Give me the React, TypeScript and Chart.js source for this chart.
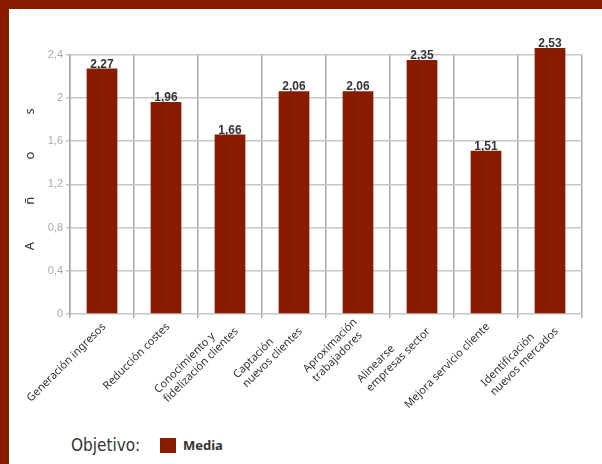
import React, { useEffect, useRef } from 'react';
import { Chart, registerables } from 'chart.js';

Chart.register(...registerables);

const categories: (string | string[])[] = [
  'Generación ingresos',
  'Reducción costes',
  ['Conocimiento y', 'fidelización clientes'],
  ['Captación', 'nuevos clientes'],
  ['Aproximación', 'trabajadores'],
  ['Alinearse', 'empresas sector'],
  'Mejora servicio cliente',
  ['Identificación', 'nuevos mercados'],
];
const mediaValues = [2.27, 1.96, 1.66, 2.06, 2.06, 2.35, 1.51, 2.53];
const yTickLabels = ['0', '0,4', '0,8', '1,2', '1,6', '2', '2,4'];
const seriesName = 'Media';
const legendTitle = 'Objetivo:';
const axisTitle = '   A           ñ           o           s';

const RED = '#881c00';
const TOP_OVERFLOW = 6.5;
const LABEL_FONT = '11px "Noto Sans", sans-serif';
const LABEL_LINE = 13;

const valueLabelPlugin = {
  id: 'valueLabels',
  afterDatasetsDraw(chart: any) {
    const ctx = chart.ctx;
    const meta = chart.getDatasetMeta(0);
    const top = chart.chartArea.top - TOP_OVERFLOW;
    ctx.save();
    ctx.font = 'bold 12px "Liberation Sans", Arial, sans-serif';
    ctx.fillStyle = '#333333';
    ctx.textAlign = 'center';
    ctx.textBaseline = 'alphabetic';
    meta.data.forEach((bar: any, i: number) => {
      const y = Math.max(bar.y, top);
      const txt = mediaValues[i].toFixed(2).replace('.', ',');
      ctx.fillText(txt, bar.x, y - 1);
    });
    ctx.restore();
  },
};

const xLabelPlugin = {
  id: 'xLabels',
  afterDraw(chart: any) {
    const ctx = chart.ctx;
    const xs = chart.scales.x;
    ctx.save();
    ctx.font = LABEL_FONT;
    ctx.fillStyle = '#333333';
    ctx.textAlign = 'left';
    ctx.textBaseline = 'middle';
    categories.forEach((lab, i) => {
      const lines = Array.isArray(lab) ? lab : [lab];
      const W = Math.max(...lines.map((l) => ctx.measureText(l).width));
      ctx.save();
      ctx.translate(xs.getPixelForTick(i) + 2, xs.top + 11);
      ctx.rotate(-Math.PI / 4);
      lines.forEach((l, j) => {
        ctx.fillText(l, -W, (j - (lines.length - 1) / 2) * LABEL_LINE);
      });
      ctx.restore();
    });
    ctx.restore();
  },
};

export default function App() {
  const ref = useRef<HTMLCanvasElement | null>(null);

  useEffect(() => {
    document.body.style.margin = '0';
    const canvas = ref.current!;
    const chart = new Chart(canvas, {
      type: 'bar',
      data: {
        labels: categories,
        datasets: [
          {
            label: seriesName,
            data: mediaValues,
            backgroundColor: RED,
            borderWidth: 0,
            barPercentage: 0.48,
            categoryPercentage: 1,
            clip: { left: false, right: false, bottom: false, top: TOP_OVERFLOW } as any,
          },
        ],
      },
      options: {
        responsive: false,
        animation: false,
        devicePixelRatio: 1,
        layout: { padding: { top: 45.5, right: 20, left: 0, bottom: 0 } },
        plugins: {
          legend: { display: false },
          tooltip: { enabled: false },
        },
        scales: {
          x: {
            offset: true,
            grid: {
              offset: true,
              color: '#aaaaaa',
              lineWidth: 1.5,
              tickLength: 4,
            },
            border: { display: false },
            ticks: { display: false, autoSkip: false },
            afterFit(scale: any) {
              scale.height = 106;
            },
          },
          y: {
            min: 0,
            max: 2.4,
            ticks: {
              stepSize: 0.4,
              padding: 3,
              color: '#aaaaaa',
              font: { family: '"Liberation Sans", Arial, sans-serif', size: 11 },
              callback: (_v: any, i: number) => yTickLabels[i],
            },
            grid: {
              color: '#c6c6c6',
              lineWidth: 1.5,
              tickLength: 4,
            },
            border: { display: true, color: '#aaaaaa', width: 1.5 },
            title: {
              display: true,
              text: axisTitle,
              color: '#333333',
              font: { family: '"Noto Sans", sans-serif', size: 13 },
              padding: { top: 13, bottom: 0 },
            },
            afterFit(scale: any) {
              scale.width = 61;
            },
          },
        },
      },
      plugins: [valueLabelPlugin, xLabelPlugin],
    } as any);
    return () => chart.destroy();
  }, []);

  return (
    <div
      style={{
        position: 'relative',
        width: 602,
        height: 464,
        boxSizing: 'border-box',
        borderTop: `9px solid ${RED}`,
        borderLeft: `9px solid ${RED}`,
        background: '#ffffff',
        overflow: 'hidden',
      }}
    >
      <canvas ref={ref} width={593} height={411} style={{ position: 'absolute', left: 0, top: 0, width: 593, height: 411 }} />
      <div
        style={{
          position: 'absolute',
          left: 62,
          top: 424,
          height: 24,
          display: 'flex',
          alignItems: 'center',
        }}
      >
        <span
          style={{
            fontFamily: '"Liberation Sans Narrow", "DejaVu Sans Condensed", "Noto Sans", sans-serif',
            fontSize: 17,
            color: '#333333',
            width: 89,
          }}
        >
          {legendTitle}
        </span>
        <span style={{ display: 'inline-block', width: 16, height: 15, background: RED, marginRight: 7 }} />
        <span
          style={{
            fontFamily: '"Noto Sans", sans-serif',
            fontSize: 13,
            fontWeight: 'bold',
            color: '#333333',
          }}
        >
          {seriesName}
        </span>
      </div>
    </div>
  );
}
